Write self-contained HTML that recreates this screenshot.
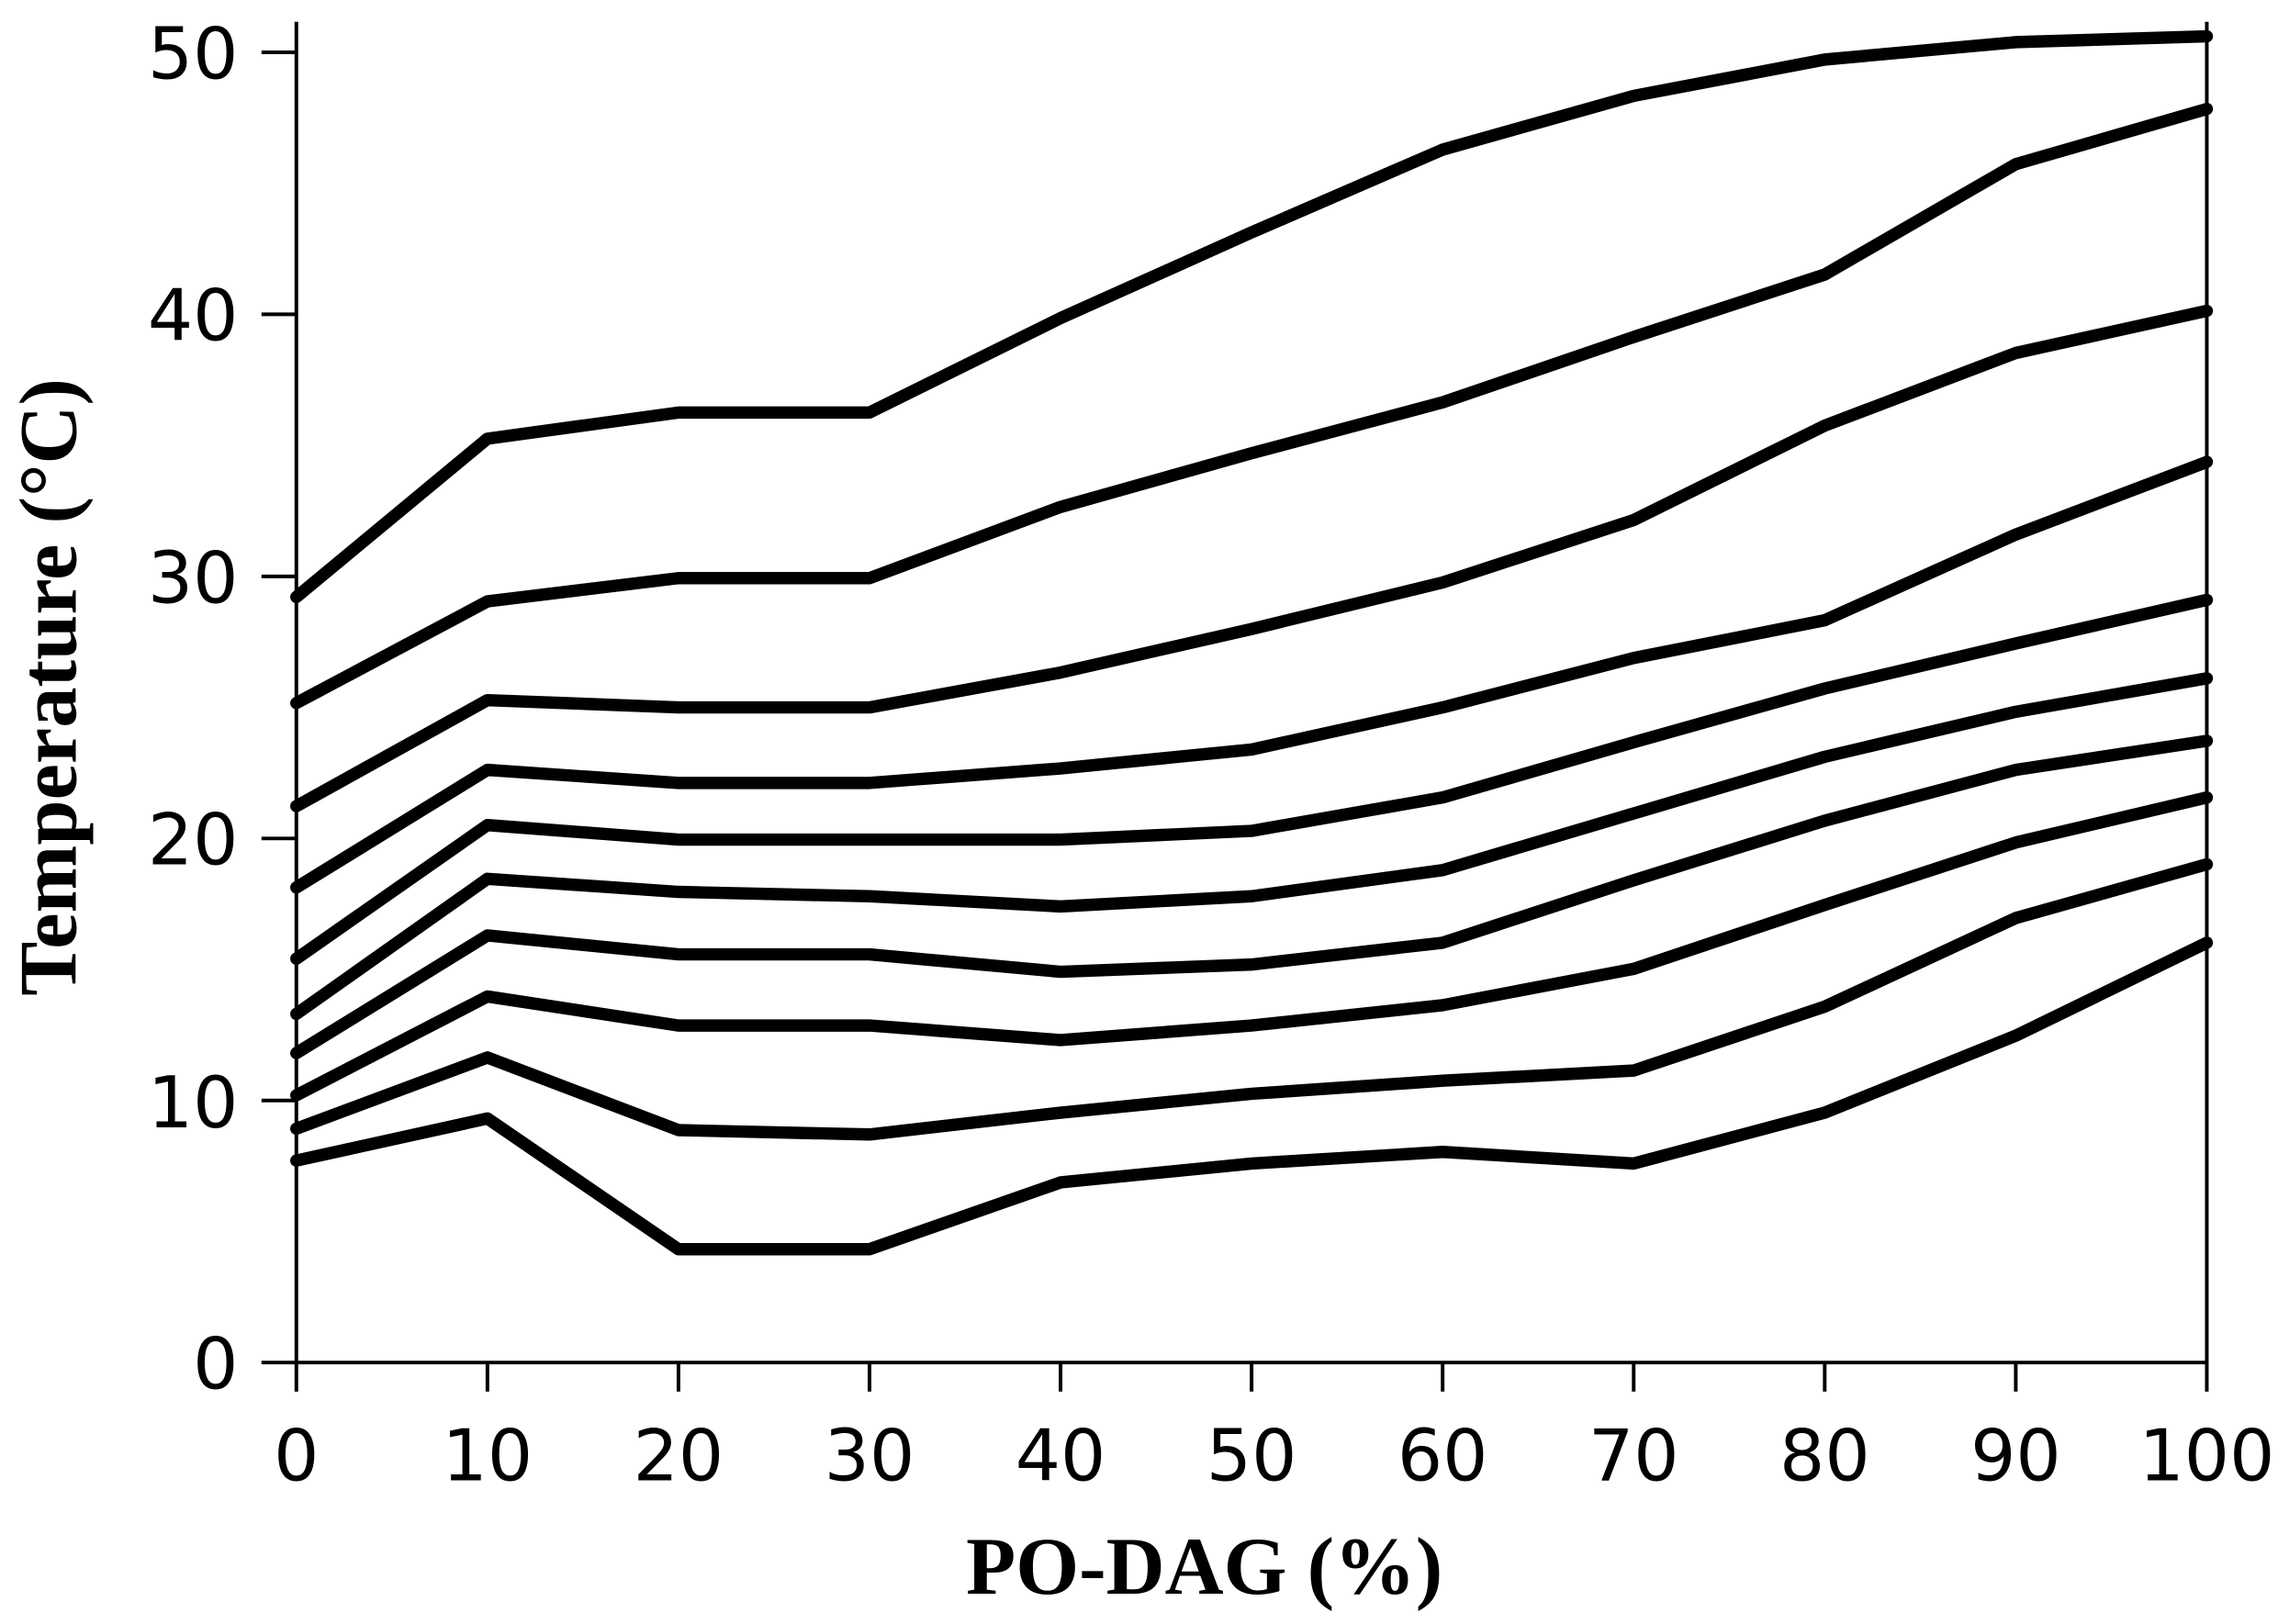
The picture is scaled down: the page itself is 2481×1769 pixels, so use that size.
<!DOCTYPE html>
<html><head><meta charset="utf-8"><style>html,body{margin:0;padding:0;background:#fff}svg{display:block}</style></head>
<body>
<svg width="2481" height="1769" viewBox="0 0 1568 1118" xmlns="http://www.w3.org/2000/svg">
<rect width="1568" height="1118" fill="#fff"/>
<g stroke="#000" stroke-width="2.5" fill="none">
<line x1="204" y1="15" x2="204" y2="958"/>
<line x1="1519" y1="15" x2="1519" y2="958"/>
<line x1="180" y1="938" x2="1519" y2="938"/>
<line x1="335.5" y1="938" x2="335.5" y2="958"/><line x1="467" y1="938" x2="467" y2="958"/><line x1="598.5" y1="938" x2="598.5" y2="958"/><line x1="730" y1="938" x2="730" y2="958"/><line x1="861.5" y1="938" x2="861.5" y2="958"/><line x1="993" y1="938" x2="993" y2="958"/><line x1="1124.5" y1="938" x2="1124.5" y2="958"/><line x1="1256" y1="938" x2="1256" y2="958"/><line x1="1387.5" y1="938" x2="1387.5" y2="958"/>
<line x1="180" y1="36" x2="204" y2="36"/><line x1="180" y1="216.4" x2="204" y2="216.4"/><line x1="180" y1="396.8" x2="204" y2="396.8"/><line x1="180" y1="577.2" x2="204" y2="577.2"/><line x1="180" y1="757.6" x2="204" y2="757.6"/>
</g>
<g stroke="#000" stroke-width="8.5" fill="none" stroke-linejoin="round" stroke-linecap="round">
<polyline points="204,411 335.5,302 467,284 598.5,284 730,219 861.5,160 993,103 1124.5,66 1256,41 1387.5,29 1519,25"/>
<polyline points="204,484 335.5,414 467,398 598.5,398 730,349 861.5,312 993,277 1124.5,232 1256,189 1387.5,113 1519,75"/>
<polyline points="204,555 335.5,482 467,487 598.5,487 730,463 861.5,433 993,401 1124.5,358 1256,293 1387.5,243 1519,214"/>
<polyline points="204,611 335.5,530 467,539 598.5,539 730,529 861.5,516 993,487 1124.5,453 1256,427 1387.5,368 1519,318"/>
<polyline points="204,660 335.5,568 467,578 598.5,578 730,578 861.5,572 993,549 1124.5,511 1256,474 1387.5,443 1519,413"/>
<polyline points="204,698 335.5,605 467,614 598.5,617 730,624 861.5,617 993,599 1124.5,560 1256,521 1387.5,490 1519,467"/>
<polyline points="204,725 335.5,644 467,657 598.5,657 730,669 861.5,664 993,649 1124.5,606 1256,565 1387.5,530 1519,510"/>
<polyline points="204,754 335.5,686 467,706 598.5,706 730,716 861.5,706 993,692 1124.5,667 1256,623 1387.5,580 1519,549"/>
<polyline points="204,777 335.5,728 467,778 598.5,781 730,766 861.5,753 993,744 1124.5,737 1256,693 1387.5,632 1519,595"/>
<polyline points="204,799 335.5,770 467,860 598.5,860 730,814 861.5,801 993,793 1124.5,801 1256,766 1387.5,713 1519,649"/>
</g>
<g font-family="'DejaVu Sans','Liberation Sans',sans-serif" font-size="49" fill="#000">
<g text-anchor="end">
<text x="164" y="54">50</text><text x="164" y="234">40</text><text x="164" y="415">30</text><text x="164" y="595">20</text><text x="164" y="776">10</text><text x="164" y="956">0</text>
</g>
<g text-anchor="middle">
<text x="204" y="1019">0</text><text x="335.5" y="1019">10</text><text x="467" y="1019">20</text><text x="598.5" y="1019">30</text><text x="730" y="1019">40</text><text x="861.5" y="1019">50</text><text x="993" y="1019">60</text><text x="1124.5" y="1019">70</text><text x="1256" y="1019">80</text><text x="1387.5" y="1019">90</text><text x="1519" y="1019">100</text>
</g>
</g>
<g font-family="'Liberation Serif',serif" font-weight="bold" font-size="56" fill="#000" text-anchor="middle">
<text x="829" y="1097">PO-DAG (%)</text>
<text transform="translate(52,473) rotate(-90)">Temperature (°C)</text>
</g>
</svg>
</body></html>
